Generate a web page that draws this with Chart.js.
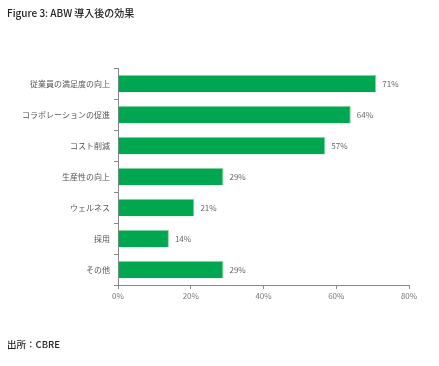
<!DOCTYPE html>
<html>
<head>
<meta charset="utf-8">
<script src="https://cdn.jsdelivr.net/npm/chart.js@4.4.0/dist/chart.umd.min.js"></script>
<style>
  body { margin: 0; background: #fff; font-family: "Noto Sans CJK JP", "Noto Sans", sans-serif; }
  #wrap { position: relative; width: 439px; height: 366px; }
  #title { position: absolute; left: 7px; top: 5px; font-size: 10px; font-weight: 500; color: #222; }
  #source { position: absolute; left: 7px; top: 337px; font-size: 9.5px; font-weight: 500; color: #222; }
  canvas { position: absolute; left: 0; top: 0; }
</style>
</head>
<body>
<div id="wrap">
  <canvas id="myChart" width="439" height="366"></canvas>
  <div id="title">Figure 3: ABW 導入後の効果</div>
  <div id="source">出所：CBRE</div>
</div>
<script>
var categories = ["従業員の満足度の向上", "コラボレーションの促進", "コスト削減", "生産性の向上", "ウェルネス", "採用", "その他"];
var values = [71, 64, 57, 29, 21, 14, 29];
var xTicks = [0, 20, 40, 60, 80];

var barLabels = {
  id: "barLabels",
  afterDatasetsDraw: function(chart) {
    let ctx = chart.ctx;
    let meta = chart.getDatasetMeta(0);
    ctx.save();
    ctx.font = "8px 'Noto Sans CJK JP'";
    ctx.fillStyle = "#666";
    ctx.textBaseline = "middle";
    meta.data.forEach(function(bar, i) {
      ctx.fillText(values[i] + "%", bar.x + 6, bar.y);
    });
    ctx.restore();
  }
};

new Chart("myChart", {
  type: "bar",
  data: {
    labels: categories,
    datasets: [{
      data: values,
      backgroundColor: "#00a650",
      borderColor: "#8fd6aa",
      borderWidth: {top: 1, right: 1, bottom: 0, left: 0},
      borderSkipped: false,
      barPercentage: 0.57,
      categoryPercentage: 1
    }]
  },
  options: {
    indexAxis: "y",
    responsive: false,
    animation: false,
    layout: {padding: {top: 68, right: 30, bottom: 61, left: 0}},
    plugins: {legend: {display: false}, tooltip: {enabled: false}},
    scales: {
      x: {
        min: 0,
        max: 80,
        afterBuildTicks: function(scale) {
          scale.ticks = xTicks.map(function(v) { return {value: v}; });
        },
        afterFit: function(scale) { scale.height = 20; },
        grid: {drawOnChartArea: false, tickLength: 4, color: "#888"},
        border: {color: "#888"},
        ticks: {
          color: "#777",
          font: {size: 8, family: "Noto Sans CJK JP"},
          padding: 2,
          callback: function(v) { return v + "%"; }
        }
      },
      y: {
        afterFit: function(scale) { scale.width = 118; },
        grid: {drawOnChartArea: false, tickLength: 4, color: "#888"},
        border: {color: "#888"},
        ticks: {
          color: "#555",
          font: {size: 8, family: "Noto Sans CJK JP"},
          padding: 4
        }
      }
    }
  },
  plugins: [barLabels]
});
</script>
</body>
</html>
